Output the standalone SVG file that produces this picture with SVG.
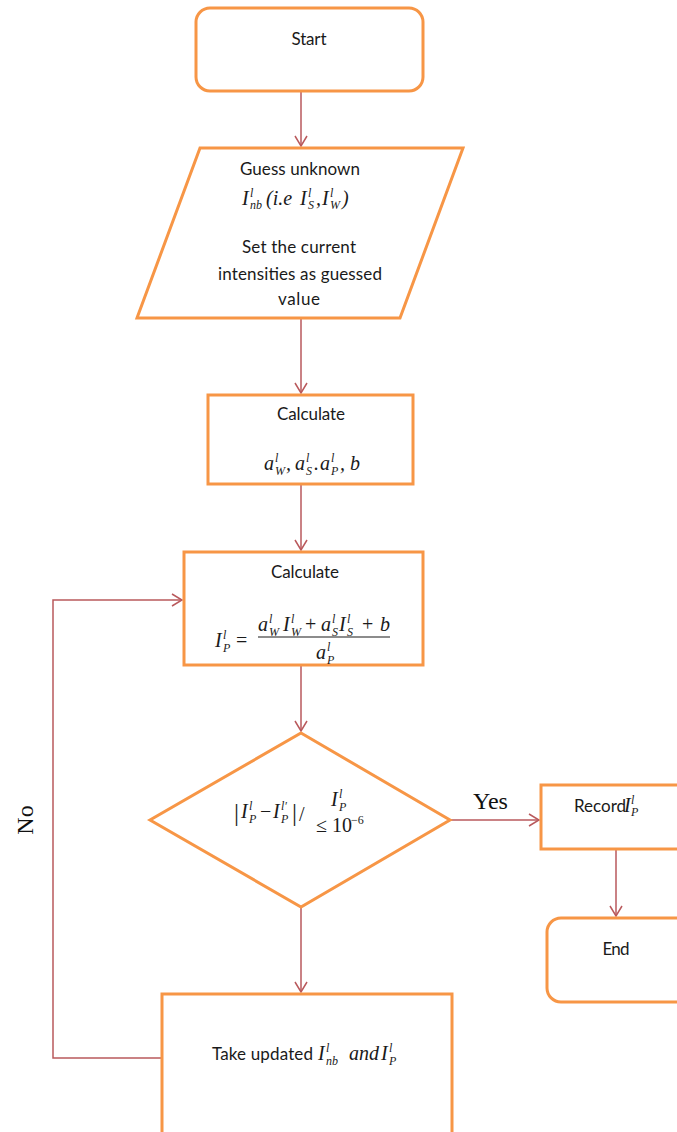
<svg xmlns="http://www.w3.org/2000/svg" width="677" height="1132" viewBox="0 0 677 1132">
<defs>
<style>
.box{fill:#fff;stroke:#f79646;stroke-width:3}
.con{fill:none;stroke:#b9595c;stroke-width:1.5}
.t{font-family:Lato,"Open Sans","Liberation Sans",sans-serif;font-size:17px;fill:#1a1a1a}
.m{font-family:"Liberation Serif","DejaVu Serif",serif;font-style:italic;font-size:20px;fill:#1a1a1a}
.s{font-size:12px}
.n{font-style:normal}
.lbl{font-family:"Liberation Serif",serif;font-size:24px;fill:#111}
</style>
<marker id="ah" viewBox="0 0 12 14" refX="11" refY="7" markerWidth="12" markerHeight="14" markerUnits="userSpaceOnUse" orient="auto">
<path d="M1,1 L11,7 L1,13" fill="none" stroke="#b9595c" stroke-width="1.5"/>
</marker>
</defs>
<rect width="677" height="1132" fill="#fff"/>

<g id="connectors">
<path class="con" d="M301,92 V146" marker-end="url(#ah)"/>
<path class="con" d="M301,318 V393" marker-end="url(#ah)"/>
<path class="con" d="M301,484 V550" marker-end="url(#ah)"/>
<path class="con" d="M301,665 V731" marker-end="url(#ah)"/>
<path class="con" d="M450,820 H539" marker-end="url(#ah)"/>
<path class="con" d="M616,850 V916" marker-end="url(#ah)"/>
<path class="con" d="M301,907 V992" marker-end="url(#ah)"/>
<path class="con" d="M162,1058 H53 V600 H182" marker-end="url(#ah)"/>
<text class="lbl" x="473" y="809">Yes</text>
<text class="lbl" font-size="26" transform="translate(33,820) rotate(-90)" text-anchor="middle">No</text>
</g>

<g id="start">
<rect class="box" x="196" y="8" width="227" height="83" rx="14"/>
<text class="t" x="309" y="45" text-anchor="middle" textLength="35" lengthAdjust="spacing">Start</text>
</g>

<g id="guess">
<polygon class="box" points="200,148 463,148 400,318 137,318"/>
<text class="t" x="300" y="175" text-anchor="middle" textLength="120" lengthAdjust="spacing">Guess unknown</text>
<text class="m"><tspan x="242" y="205">I</tspan><tspan class="s" x="250" y="197">l</tspan><tspan class="s" x="250" y="209">nb</tspan><tspan x="266" y="205">(i.e</tspan><tspan x="300" y="205">I</tspan><tspan class="s" x="308" y="197">l</tspan><tspan class="s" x="308" y="209">S</tspan><tspan x="316" y="205">,</tspan><tspan x="322" y="205">I</tspan><tspan class="s" x="330" y="197">l</tspan><tspan class="s" x="330" y="209">W</tspan><tspan x="342" y="205">)</tspan></text>
<text class="t" x="299" y="253" text-anchor="middle" textLength="114" lengthAdjust="spacing">Set the current</text>
<text class="t" x="300" y="280" text-anchor="middle" textLength="164" lengthAdjust="spacing">intensities as guessed</text>
<text class="t" x="299" y="305" text-anchor="middle" textLength="42" lengthAdjust="spacing">value</text>
</g>

<g id="calc1">
<rect class="box" x="208" y="395" width="205" height="89"/>
<text class="t" x="311" y="420" text-anchor="middle" textLength="68" lengthAdjust="spacing">Calculate</text>
<text class="m"><tspan x="264" y="470">a</tspan><tspan class="s" x="275" y="462">l</tspan><tspan class="s" x="275" y="475">W</tspan><tspan x="286" y="470">,</tspan><tspan x="295" y="470">a</tspan><tspan class="s" x="306" y="462">l</tspan><tspan class="s" x="306" y="475">S</tspan><tspan x="314" y="470">.</tspan><tspan x="320" y="470">a</tspan><tspan class="s" x="331" y="462">l</tspan><tspan class="s" x="331" y="475">P</tspan><tspan x="340" y="470">,</tspan><tspan x="350" y="470">b</tspan></text>
</g>

<g id="calc2">
<rect class="box" x="184" y="552" width="239" height="113"/>
<text class="t" x="305" y="578" text-anchor="middle" textLength="68" lengthAdjust="spacing">Calculate</text>
<text class="m"><tspan x="215" y="647">I</tspan><tspan class="s" x="223" y="639">l</tspan><tspan class="s" x="223" y="652">P</tspan><tspan class="n" x="236" y="647">=</tspan>
<tspan x="258" y="631">a</tspan><tspan class="s" x="269" y="623">l</tspan><tspan class="s" x="269" y="636">W</tspan><tspan x="283" y="631">I</tspan><tspan class="s" x="291" y="623">l</tspan><tspan class="s" x="291" y="636">W</tspan><tspan class="n" x="305" y="631">+</tspan><tspan x="321" y="631">a</tspan><tspan class="s" x="332" y="623">l</tspan><tspan class="s" x="332" y="636">S</tspan><tspan x="339" y="631">I</tspan><tspan class="s" x="347" y="623">l</tspan><tspan class="s" x="347" y="636">S</tspan><tspan class="n" x="362" y="631">+</tspan><tspan x="380" y="631">b</tspan>
<tspan x="316" y="659">a</tspan><tspan class="s" x="327" y="651">l</tspan><tspan class="s" x="327" y="664">P</tspan></text>
<line x1="258" y1="637" x2="390" y2="637" stroke="#1a1a1a" stroke-width="1.2"/>
</g>

<g id="decision">
<polygon class="box" points="301,733 450,820 301,907 150,820"/>
<text class="m"><tspan class="n" x="234" y="821" font-size="25">|</tspan><tspan x="241" y="818">I</tspan><tspan class="s" x="249" y="810">l</tspan><tspan class="s" x="249" y="823">P</tspan><tspan class="n" x="260" y="818">−</tspan><tspan x="273" y="818">I</tspan><tspan class="s" x="281" y="810">l′</tspan><tspan class="s" x="281" y="823">P</tspan><tspan class="n" x="292" y="821" font-size="25">|</tspan><tspan class="n" x="299" y="821">/</tspan>
<tspan x="331" y="806">I</tspan><tspan class="s" x="339" y="798">l</tspan><tspan class="s" x="339" y="811">P</tspan>
<tspan class="n" x="316" y="832">≤ 10</tspan><tspan class="s n" x="351" y="824">−6</tspan></text>
</g>

<g id="record">
<rect class="box" x="541" y="785" width="150" height="64"/>
<text class="t" x="574" y="812" font-size="16">Record</text>
<text class="m" font-size="18"><tspan x="624" y="812">I</tspan><tspan class="s" x="631" y="804" font-size="10">l</tspan><tspan class="s" x="631" y="816" font-size="10">P</tspan></text>
</g>

<g id="end">
<rect class="box" x="547" y="918" width="150" height="84" rx="14"/>
<text class="t" x="616" y="955" text-anchor="middle" textLength="27" lengthAdjust="spacing">End</text>
</g>

<g id="update">
<rect class="box" x="162" y="994" width="290" height="150"/>
<text class="t" x="212" y="1060" textLength="101" lengthAdjust="spacing">Take updated</text>
<text class="m" font-size="19"><tspan x="318" y="1060">I</tspan><tspan class="s" x="326" y="1052">l</tspan><tspan class="s" x="326" y="1065">nb</tspan><tspan x="349" y="1060">and</tspan><tspan x="381" y="1060">I</tspan><tspan class="s" x="389" y="1052">l</tspan><tspan class="s" x="389" y="1065">P</tspan></text>
</g>
</svg>
